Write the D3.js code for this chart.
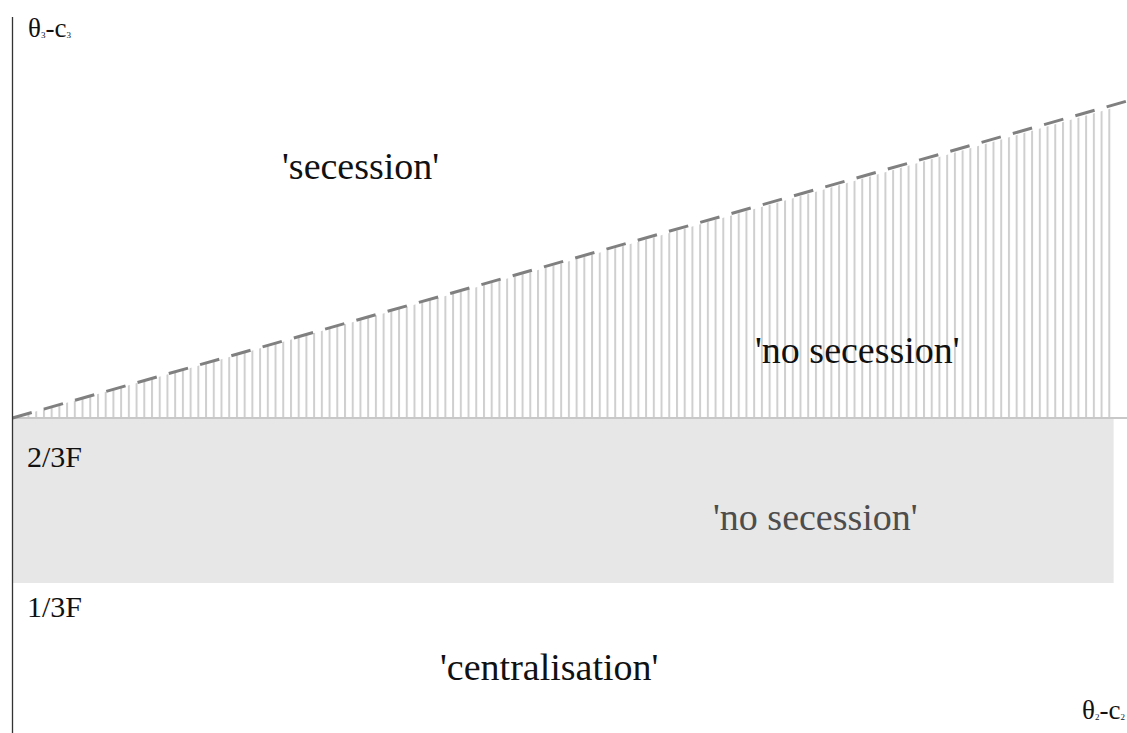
<!DOCTYPE html>
<html>
<head>
<meta charset="utf-8">
<title>secession regions</title>
<style>
  body { margin: 0; background: #fff; }
</style>
</head>
<body>
<script src="https://cdn.jsdelivr.net/npm/d3@7"></script>
<script>

// thresholds on the vertical axis (in units of F)
var levelLabels = ["2/3F", "1/3F"];
var levelValues = [2/3, 1/3];

// boundary between 'secession' and 'no secession' (dashed)
var boundaryX = [0, 1];
var boundaryY = [2/3, 1.307];

// where the shaded band / hatching stops on the right
var bandEnd = 0.988;

// region labels
var regionLabels = ["'secession'", "'no secession'", "'no secession'", "'centralisation'"];

var width = 1127, height = 733;
var serif = "'Liberation Serif'";

var x = d3.scaleLinear().domain([0, 1]).range([12.5, 1127]);
var y = d3.scaleLinear().domain([0, 1.5]).range([748, 5.5]);

var boundaryAt = d3.scaleLinear().domain(boundaryX).range(boundaryY);

var svg = d3.select("body").append("svg")
    .attr("width", width)
    .attr("height", height);

var defs = svg.append("defs");
var step = 7.72;
var lastHatch = 1109.3;
var hatch = defs.append("pattern")
    .attr("id", "hatch")
    .attr("patternUnits", "userSpaceOnUse")
    .attr("x", lastHatch - 1 - step * 143)
    .attr("y", 0)
    .attr("width", step)
    .attr("height", 10);
hatch.append("rect")
    .attr("x", 0).attr("y", 0)
    .attr("width", 2).attr("height", 10)
    .attr("fill", "#cfcfcf");

// shaded band between 1/3F and 2/3F
svg.append("rect")
    .attr("x", x(0))
    .attr("y", y(levelValues[0]))
    .attr("width", x(bandEnd) - x(0))
    .attr("height", y(levelValues[1]) - y(levelValues[0]))
    .attr("fill", "#e7e7e7");

// hatched 'no secession' triangle
var tri = [
  [x(0), y(levelValues[0])],
  [x(bandEnd), y(boundaryAt(bandEnd)) + 3],
  [x(bandEnd), y(levelValues[0])]
];
svg.append("path")
    .attr("d", "M" + tri.join("L") + "Z")
    .attr("fill", "url(#hatch)");

// 2/3F line
svg.append("line")
    .attr("x1", x(0)).attr("x2", x(1))
    .attr("y1", y(levelValues[0])).attr("y2", y(levelValues[0]))
    .attr("stroke", "#c8c8c8")
    .attr("stroke-width", 2.2);

// dashed boundary
var line = d3.line()
    .x(function (d) { return x(d[0]); })
    .y(function (d) { return y(d[1]); });
svg.append("path")
    .datum(d3.zip(boundaryX, boundaryY))
    .attr("d", line)
    .attr("fill", "none")
    .attr("stroke", "#808080")
    .attr("stroke-width", 3)
    .attr("stroke-dasharray", "20,12.5");

// vertical axis
svg.append("line")
    .attr("x1", x(0)).attr("x2", x(0))
    .attr("y1", 17).attr("y2", height)
    .attr("stroke", "#333")
    .attr("stroke-width", 1.3);

// level labels (sit just under their band edge)
var levelDy = [49, 34];
svg.selectAll(".level")
  .data(levelLabels)
  .enter().append("text")
    .attr("class", "level")
    .attr("x", 27)
    .attr("y", function (d, i) { return y(levelValues[i]) + levelDy[i]; })
    .attr("font-size", 30)
    .style("font-family", serif)
    .attr("fill", "#111")
    .text(function (d) { return d; });

// axis titles
function axisTitle(xp, yp, sub, tail, tailSub) {
  var t = svg.append("text")
      .attr("x", xp).attr("y", yp)
      .attr("font-size", 27)
      .style("font-family", serif)
      .attr("fill", "#111");
  t.append("tspan").text("\u03b8");
  t.append("tspan").attr("font-size", 9).attr("dy", 1).text(sub);
  t.append("tspan").attr("dy", -1).text(tail);
  if (tailSub) t.append("tspan").attr("font-size", 9).attr("dy", 1).text(tailSub);
}
axisTitle(28, 37, "3", "-c", "3");
axisTitle(1082, 719, "2", "-c", "2");

// region labels
var pos = [[282, 179, "#111"], [755, 363, "#111"], [713, 530, "#4d4d4d"], [440, 680, "#111"]];
svg.selectAll(".region")
  .data(regionLabels)
  .enter().append("text")
    .attr("class", "region")
    .attr("x", function (d, i) { return pos[i][0]; })
    .attr("y", function (d, i) { return pos[i][1]; })
    .attr("font-size", 38)
    .style("font-family", serif)
    .attr("fill", function (d, i) { return pos[i][2]; })
    .text(function (d) { return d; });

</script>
</body>
</html>
